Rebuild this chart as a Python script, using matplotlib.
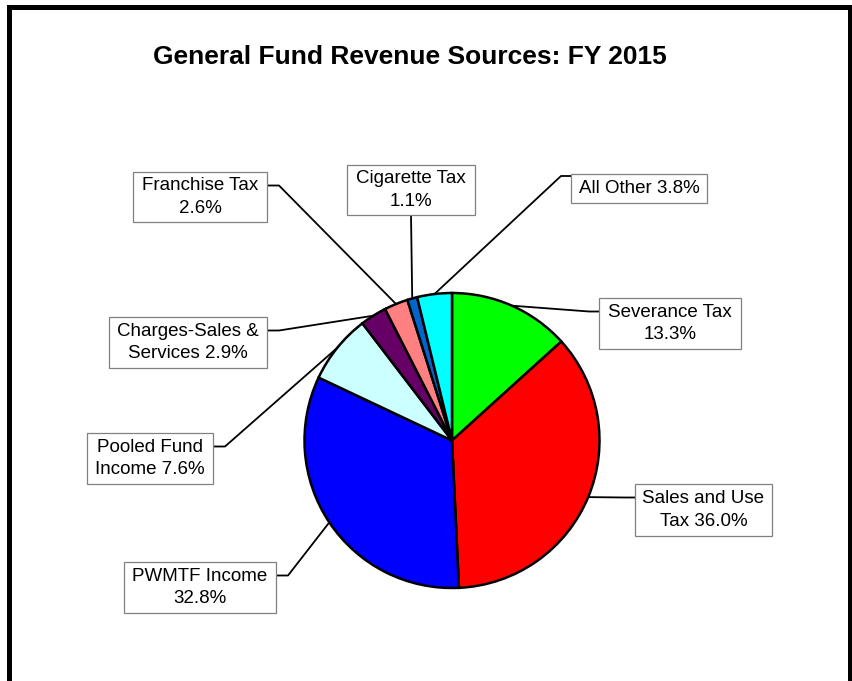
import numpy as np
import matplotlib
matplotlib.use("Agg")
import matplotlib.pyplot as plt
import matplotlib.patches as mpatches

# data, clockwise from 12 o'clock
labels = ["Severance Tax\n13.3%", "Sales and Use\nTax 36.0%", "PWMTF Income\n32.8%",
          "Pooled Fund\nIncome 7.6%", "Charges-Sales &\nServices 2.9%",
          "Franchise Tax\n2.6%", "Cigarette Tax\n1.1%", "All Other 3.8%"]
shares = [13.3, 36.0, 32.8, 7.6, 2.9, 2.6, 1.1, 3.8]
colors = ["#00FF00", "#FF0000", "#0000FF", "#CCFFFF", "#660066",
          "#FF8080", "#0066CC", "#00FFFF"]

# label box layout in pixels (left, top, right, bottom) and where the leader leaves the box
boxes = [(599, 298, 741, 349), (635, 484, 772, 536), (124, 562, 276, 613),
         (87, 433, 213, 484), (109, 317, 267, 368), (133, 172, 267, 222),
         (347, 165, 475, 215), (571, 174, 707, 203)]
sides = ["left", "left", "right", "right", "right", "right", "bottom", "left"]

W, H = 853, 681
CX, CY, R = 452, 440.5, 147.5

plt.rcParams['font.family'] = ['Liberation Sans', 'DejaVu Sans']

fig = plt.figure(figsize=(W / 100, H / 100), dpi=100)
ax = fig.add_axes([0, 0, 1, 1])

def py(y):
    # pixel row -> data y
    return H - y

wedges, _ = ax.pie(shares, colors=colors, startangle=90, counterclock=False,
                   center=(CX, py(CY)), radius=R, frame=True,
                   wedgeprops=dict(edgecolor='black', linewidth=1.8))
ax.set_xlim(0, W)
ax.set_ylim(0, H)
ax.set_aspect('equal')
ax.axis('off')

# outer frame (bottom edge is cut off in the original)
ax.plot([9.5, 9.5, 850.5, 850.5], [py(H + 10), py(6.5), py(6.5), py(H + 10)],
        color='black', lw=3.6, solid_joinstyle='miter', clip_on=False)

ax.text(410, py(57), "General Fund Revenue Sources: FY 2015", ha='center', va='center',
        fontsize=19, fontweight='bold')

for w, lab, (x0, y0, x1, y1), side in zip(wedges, labels, boxes, sides):
    mid = np.deg2rad((w.theta1 + w.theta2) / 2)
    px, pyy = CX + R * np.cos(mid), py(CY) + R * np.sin(mid)
    ax.add_patch(mpatches.Rectangle((x0, py(y1)), x1 - x0, y1 - y0, facecolor='white',
                                    edgecolor='#808080', lw=0.9, zorder=3))
    ax.text((x0 + x1) / 2, py((y0 + y1) / 2), lab, ha='center', va='center',
            fontsize=13.5, linespacing=1.4, zorder=4)
    stub_y = y0 + 2 if y1 - y0 < 40 else y0 + 13.5
    if side == "left":
        xs = [x0, x0 - 10, px]
        ys = [py(stub_y), py(stub_y), pyy]
    elif side == "right":
        xs = [x1, x1 + 12, px]
        ys = [py(stub_y), py(stub_y), pyy]
    else:
        xs = [(x0 + x1) / 2, px]
        ys = [py(y1), pyy]
    ax.plot(xs, ys, color='black', lw=1.3, zorder=2)

fig.savefig("out.png", dpi=100, facecolor='white')
